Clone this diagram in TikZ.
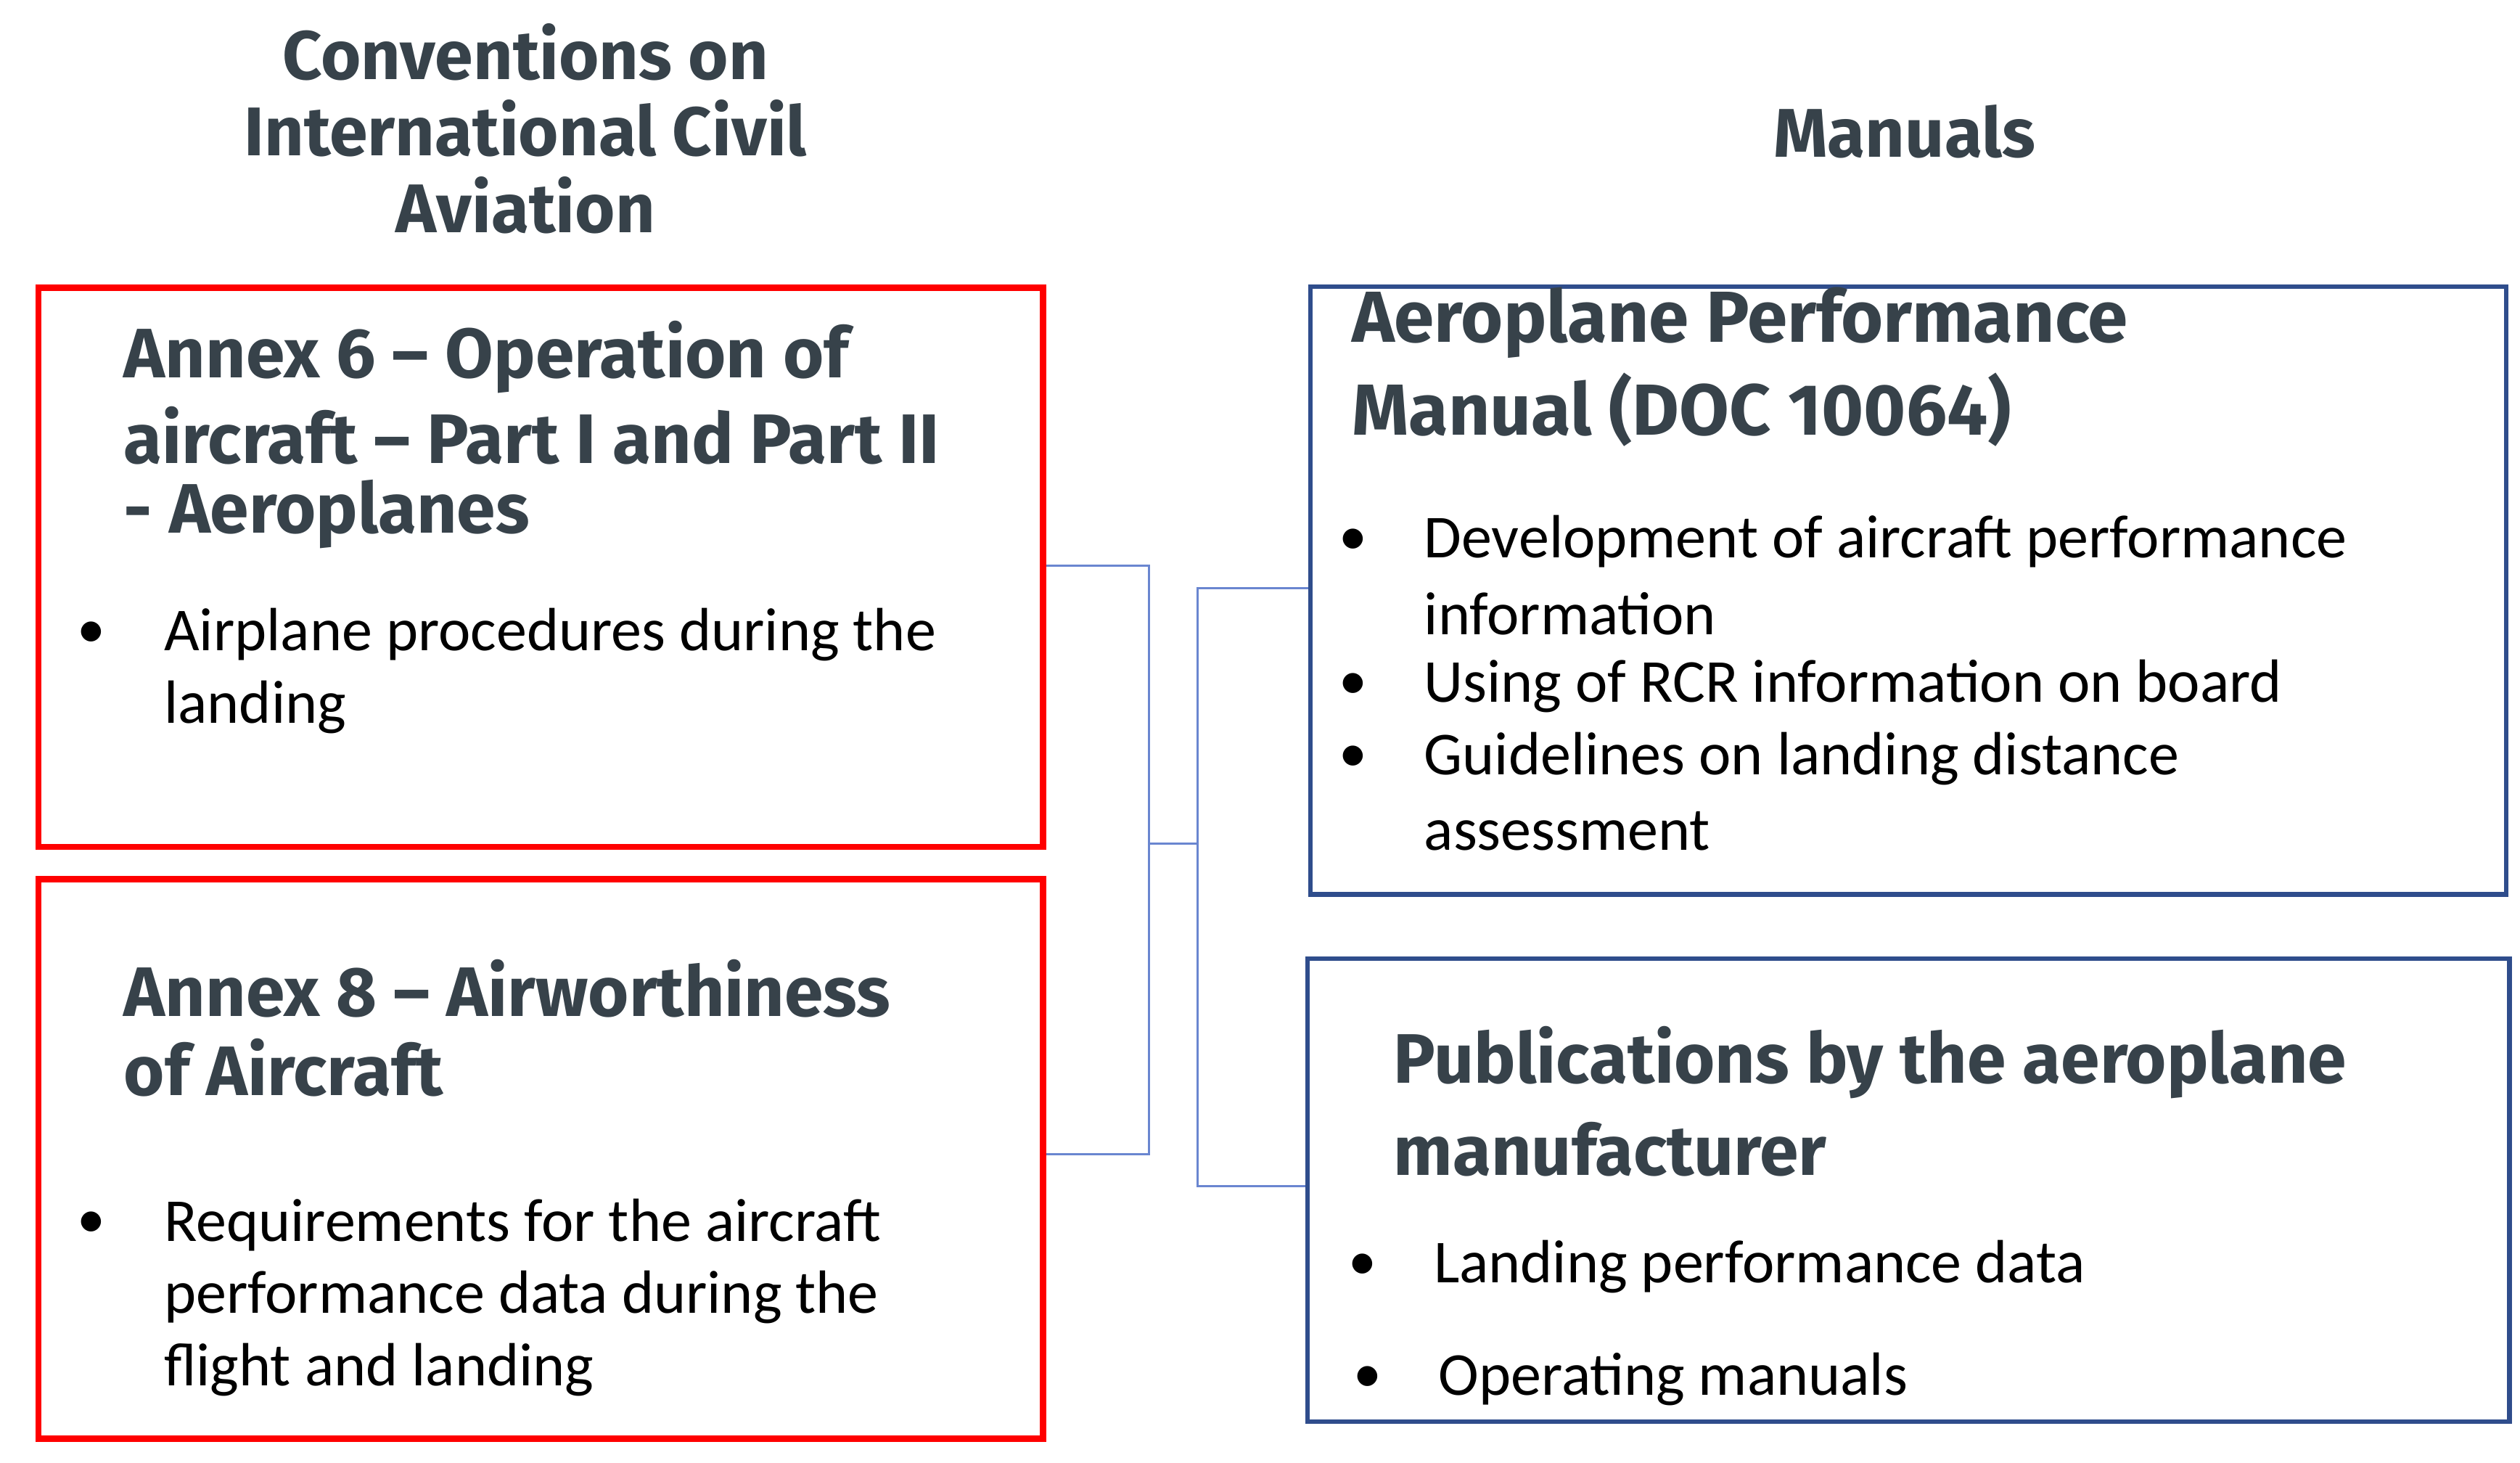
\documentclass[tikz,border=0pt]{standalone}
\usepackage{fontspec}
\setmainfont{Carlito}
\newfontfamily\hfont{Fira Sans Bold}
\begin{document}
\begin{tikzpicture}[x=0.05cm,y=-0.05cm,
  hd/.style={anchor=west,inner sep=0,font=\hfont\fontsize{62}{64}\selectfont,text=head},
  tt/.style={anchor=center,inner sep=0,font=\hfont\fontsize{61}{68}\selectfont,text=head,align=center},
  bd/.style={anchor=west,inner sep=0,font=\fontsize{54}{56}\selectfont},
  bl/.style={anchor=center,inner sep=0,font=\fontsize{50}{56}\selectfont},
  rbox/.style={draw=red,line width=5.5pt},
  bbox/.style={draw=bluebox,line width=4pt},
  con/.style={draw=conn,line width=1.8pt}]
\definecolor{head}{HTML}{37424A}
\definecolor{bluebox}{HTML}{2F4D8C}
\definecolor{conn}{HTML}{6A86D0}
\useasboundingbox (0,0) rectangle (1568,910);
\node[tt] (t1) at (327,80) {Conventions on\\International Civil\\Aviation};
\node[tt] (t2) at (1185,82) {Manuals};
\node[rbox,minimum width=625*0.05cm,minimum height=348*0.05cm,anchor=north west] (r1) at (22,177) {};
\node[rbox,minimum width=625*0.05cm,minimum height=348*0.05cm,anchor=north west] (r2) at (22,545) {};
\node[bbox,minimum width=744*0.05cm,minimum height=378*0.05cm,anchor=north west] (b1) at (814,177) {};
\node[bbox,minimum width=748*0.05cm,minimum height=288*0.05cm,anchor=north west] (b2) at (812,595) {};
% left box 1
\node[hd] (a1) at (77,222) {Annex 6 – Operation of};
\node[hd] (a2) at (77,271) {aircraft – Part I and Part II};
\node[hd] (a3) at (77,320) {- Aeroplanes};
\node[bl] (ab1) at (57,395) {•};
\node[bd] (ax1) at (102,395) {Airplane procedures during the};
\node[bd] (ax2) at (102,440) {landing};
% left box 2
\node[hd] (c1) at (77,615) {Annex 8 – Airworthiness};
\node[hd] (c2) at (77,664) {of Aircraft};
\node[bl] (cb1) at (57,762) {•};
\node[bd] (cx1) at (102,762) {Requirements for the aircraft};
\node[bd] (cx2) at (102,807) {performance data during the};
\node[bd] (cx3) at (102,852) {flight and landing};
% right box 1
\node[hd,font=\hfont\fontsize{64}{66}\selectfont] (d1) at (841,201) {Aeroplane Performance};
\node[hd,font=\hfont\fontsize{64}{66}\selectfont] (d2) at (841,255) {Manual (DOC 10064)};
\node[bl] (db1) at (842,337) {•};
\node[bl] (db2) at (842,427) {•};
\node[bl] (db3) at (842,472) {•};
\node[bd] (dx1) at (886,337) {Development of aircraft performance};
\node[bd] (dx2) at (886,382) {information};
\node[bd] (dx3) at (886,427) {Using of RCR information on board};
\node[bd] (dx4) at (886,472) {Guidelines on landing distance};
\node[bd] (dx5) at (886,517) {assessment};
% right box 2
\node[hd] (e1) at (867,661) {Publications by the aeroplane};
\node[hd] (e2) at (867,715) {manufacturer};
\node[bl] (eb1) at (848,788) {•};
\node[bl] (eb2) at (851,858) {•};
\node[bd] (ex1) at (892,788) {Landing performance data};
\node[bd] (ex2) at (895,858) {Operating manuals};
% connectors
\coordinate (p1) at (715,352);
\coordinate (p2) at (715,718);
\coordinate (m1) at (715,525);
\coordinate (m2) at (745,525);
\coordinate (q1) at (745,366);
\coordinate (q2) at (745,738);
\draw[con] (r1.east |- p1) -- (p1) -- (p2) -- (r2.east |- p2);
\draw[con] (m1) -- (m2);
\draw[con] (b1.west |- q1) -- (q1) -- (q2) -- (b2.west |- q2);
\end{tikzpicture}
\end{document}
